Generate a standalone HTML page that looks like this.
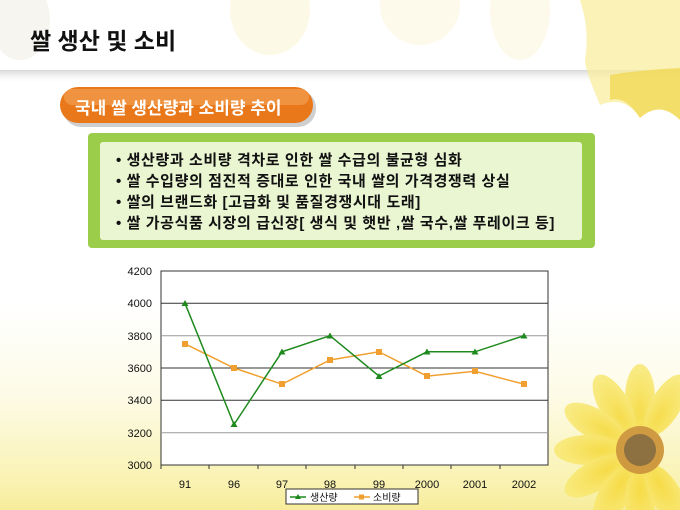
<!DOCTYPE html>
<html style="overflow:hidden;width:680px;height:510px"><head><meta charset="utf-8"><style>
body{margin:0;width:680px;height:510px;overflow:hidden;position:relative;font-family:"Liberation Sans","Noto Sans CJK KR",sans-serif;
background:linear-gradient(180deg,#fff 0,#fff 60%,#fdfbe6 78%,#f9f2b0 95%,#f7ec9c 100%);}
.abs{position:absolute}
</style></head><body>
<svg class="abs" style="left:0;top:0" width="680" height="510">
<defs>
<linearGradient id="sh" x1="0" y1="0" x2="0" y2="1"><stop offset="0" stop-color="#d8d8d8"/><stop offset="1" stop-color="#fff" stop-opacity="0"/></linearGradient>
<radialGradient id="pet" cx="0.5" cy="0.7" r="0.8"><stop offset="0" stop-color="#f6d835"/><stop offset="1" stop-color="#f9ec80"/></radialGradient>
</defs>
<ellipse cx="270" cy="10" rx="40" ry="45" fill="#fbf3d0" opacity="0.5"/>
<ellipse cx="420" cy="5" rx="40" ry="40" fill="#fbf3d0" opacity="0.4"/>
<ellipse cx="520" cy="10" rx="30" ry="50" fill="#fbf3d0" opacity="0.4"/>
<ellipse cx="20" cy="20" rx="30" ry="40" fill="#f2efe6" opacity="0.6"/>
<rect x="0" y="70" width="680" height="14" fill="url(#sh)"/>
<path d="M580 0 L680 0 L680 120 Q660 100 640 118 Q625 95 600 105 Q585 70 585 60 Q590 30 580 0Z" fill="#f9ec9a" opacity="0.7"/>
<path d="M610 75 Q640 70 680 68 L680 120 Q660 100 640 118 Q625 95 610 100Z" fill="#f1d548" opacity="0.7"/>
<g transform="translate(640,450)" opacity="0.85">
<g fill="url(#pet)">
<ellipse cx="0" cy="-52" rx="15" ry="34" transform="rotate(0)"/>
<ellipse cx="0" cy="-52" rx="15" ry="34" transform="rotate(-30)"/>
<ellipse cx="0" cy="-52" rx="15" ry="34" transform="rotate(-60)"/>
<ellipse cx="0" cy="-52" rx="15" ry="34" transform="rotate(-90)"/>
<ellipse cx="0" cy="-52" rx="15" ry="34" transform="rotate(-120)"/>
<ellipse cx="0" cy="-52" rx="15" ry="34" transform="rotate(-150)"/>
<ellipse cx="0" cy="-52" rx="15" ry="34" transform="rotate(180)"/>
<ellipse cx="0" cy="-52" rx="15" ry="34" transform="rotate(30)"/>
<ellipse cx="0" cy="-52" rx="15" ry="34" transform="rotate(150)"/>
</g>
<circle r="24" fill="#c88a2a"/><circle r="16" fill="#7a5a2a"/>
</g>
<rect x="88" y="133" width="507" height="115" rx="4" fill="#9ccd4a"/>
<rect x="100" y="142" width="482" height="98" rx="3" fill="#eaf5d2"/>
<rect x="63" y="90" width="253" height="37" rx="18" fill="#cfcfcf"/>
<rect x="60" y="87" width="253" height="36" rx="18" fill="#e8781a"/>
<rect x="64" y="89" width="245" height="16" rx="8" fill="#f5a55a" opacity="0.6"/>
<g stroke="#333" stroke-width="1">
<rect x="161" y="271" width="387" height="194" fill="#fff"/>
<line x1="161" x2="548" y1="303.3" y2="303.3"/>
<line x1="161" x2="548" y1="335.7" y2="335.7" stroke="#999"/>
<line x1="161" x2="548" y1="368" y2="368"/>
<line x1="161" x2="548" y1="400.3" y2="400.3"/>
<line x1="161" x2="548" y1="432.7" y2="432.7" stroke="#999"/>
<line x1="161" x2="161" y1="465" y2="469"/><line x1="209" x2="209" y1="465" y2="469"/><line x1="258" x2="258" y1="465" y2="469"/><line x1="306" x2="306" y1="465" y2="469"/><line x1="355" x2="355" y1="465" y2="469"/><line x1="403" x2="403" y1="465" y2="469"/><line x1="451" x2="451" y1="465" y2="469"/><line x1="500" x2="500" y1="465" y2="469"/>
</g>
<g font-size="11" fill="#111" text-anchor="end" font-family="Liberation Sans,sans-serif">
<text x="152" y="275">4200</text><text x="152" y="307">4000</text><text x="152" y="340">3800</text><text x="152" y="372">3600</text><text x="152" y="404">3400</text><text x="152" y="437">3200</text><text x="152" y="469">3000</text>
</g>
<g font-size="11" fill="#111" text-anchor="middle" font-family="Liberation Sans,sans-serif">
<text x="185" y="488">91</text><text x="234" y="488">96</text><text x="282" y="488">97</text><text x="330" y="488">98</text><text x="379" y="488">99</text><text x="427" y="488">2000</text><text x="475" y="488">2001</text><text x="524" y="488">2002</text>
</g>
<polyline fill="none" stroke="#f0a030" stroke-width="1.5" points="185,343.8 234,368 282,384.2 330,360 379,351.8 427,376.1 475,371.3 524,384.2"/>
<g fill="#f0a030"><rect x="182" y="341" width="6" height="6"/><rect x="231" y="365" width="6" height="6"/><rect x="279" y="381" width="6" height="6"/><rect x="327" y="357" width="6" height="6"/><rect x="376" y="349" width="6" height="6"/><rect x="424" y="373" width="6" height="6"/><rect x="472" y="368" width="6" height="6"/><rect x="521" y="381" width="6" height="6"/></g>
<polyline fill="none" stroke="#1e8a1e" stroke-width="1.5" points="185,303.3 234,424.5 282,351.8 330,335.7 379,376.1 427,351.8 475,351.8 524,335.7"/>
<g fill="#1e8a1e">
<path d="M185 300 l3.5 6 h-7z"/><path d="M234 421 l3.5 6 h-7z"/><path d="M282 348.5 l3.5 6 h-7z"/><path d="M330 332.5 l3.5 6 h-7z"/><path d="M379 373 l3.5 6 h-7z"/><path d="M427 348.5 l3.5 6 h-7z"/><path d="M475 348.5 l3.5 6 h-7z"/><path d="M524 332.5 l3.5 6 h-7z"/>
</g>
<rect x="286" y="489" width="132" height="15" fill="#fff" stroke="#333"/>
<line x1="290" x2="306" y1="497" y2="497" stroke="#1e8a1e" stroke-width="1.5"/><path d="M298 494 l3 5 h-6z" fill="#1e8a1e"/>
<line x1="354" x2="370" y1="497" y2="497" stroke="#f0a030" stroke-width="1.5"/><rect x="359" y="494.5" width="5" height="5" fill="#f0a030"/>
<g font-size="10" fill="#111" font-family="Liberation Sans,Noto Sans CJK KR,sans-serif"><text x="310" y="501">생산량</text><text x="373" y="501">소비량</text></g>
</svg>
<div class="abs" style="left:30px;top:22px;font-size:23px;font-weight:bold;color:#111;white-space:nowrap">쌀 생산 및 소비</div>
<div class="abs" style="left:75px;top:94px;font-size:17px;font-weight:bold;color:#fff;white-space:nowrap">국내 쌀 생산량과 소비량 추이</div>
<div class="abs" style="left:116px;top:150px;font-size:15px;font-weight:bold;color:#111;line-height:21px;letter-spacing:0.6px;white-space:nowrap">
• 생산량과 소비량 격차로 인한 쌀 수급의 불균형 심화<br>
• 쌀 수입량의 점진적 증대로 인한 국내 쌀의 가격경쟁력 상실<br>
• 쌀의 브랜드화 [고급화 및 품질경쟁시대 도래]<br>
• 쌀 가공식품 시장의 급신장[ 생식 및 햇반 ,쌀 국수,쌀 푸레이크 등]
</div>
</body></html>
